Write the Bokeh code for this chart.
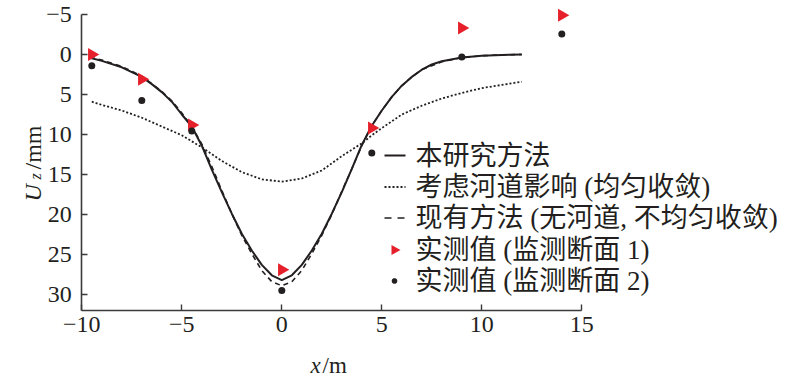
import numpy as np
from bokeh.plotting import figure
from bokeh.models import Range1d, FixedTicker, Label, Arrow, PolyAnnotation
from bokeh.embed import file_html
from bokeh.resources import INLINE

# ---------------- data ----------------
x_solid = [-9.6, -9.0, -8.0, -7.0, -6.5, -6.0, -5.5, -5.0, -4.5, -4.0, -3.5, -3.0, -2.5, -2.0,
           -1.5, -1.0, -0.5, 0.0, 0.5, 1.0, 1.5, 2.0, 2.5, 3.0, 3.5, 4.0, 4.5, 5.0, 5.5, 6.0,
           6.5, 7.0, 7.5, 8.0, 9.0, 10.0, 11.0, 12.0]
y_solid = [0.4, 0.8, 1.6, 2.8, 3.7, 4.7, 5.9, 7.5, 9.0, 11.4, 14.4, 17.2, 19.9, 22.4,
           24.5, 26.3, 27.6, 28.2, 27.6, 26.3, 24.5, 22.4, 19.9, 17.2, 14.3, 11.3, 8.9, 7.0, 5.3, 3.9,
           2.8, 1.9, 1.25, 0.85, 0.37, 0.15, 0.05, 0.0]

x_dashed = [-9.6, -9.0, -8.0, -7.0, -6.0, -5.5, -5.0, -4.5, -4.0, -3.5, -3.0, -2.5, -2.0,
            -1.5, -1.0, -0.5, 0.0, 0.5, 1.0, 1.5, 2.0, 2.5, 3.0, 3.5, 4.0, 4.5, 5.0, 5.5,
            6.0, 6.5, 7.0, 8.0, 9.0, 10.0, 11.0, 12.0]
y_dashed = [0.3, 0.7, 1.5, 2.7, 4.6, 5.8, 7.3, 9.0, 11.2, 14.0, 17.0, 19.9, 22.6,
            24.9, 27.0, 28.4, 28.9, 28.4, 27.0, 24.9, 22.6, 20.0, 17.1, 14.3, 11.4, 8.9, 7.0, 5.3,
            3.9, 2.8, 1.9, 0.9, 0.4, 0.15, 0.05, 0.0]

x_dotted = [-9.5, -9.0, -8.0, -7.0, -6.0, -5.0, -4.0, -3.0, -2.0, -1.0, 0.0, 1.0, 2.0, 3.0,
            4.0, 4.5, 5.0, 6.0, 7.0, 8.0, 9.0, 10.0, 11.0, 12.0]
y_dotted = [5.9, 6.3, 7.0, 7.9, 9.0, 10.1, 11.6, 13.3, 14.7, 15.6, 15.9, 15.5, 14.5, 12.7,
            11.1, 10.1, 9.2, 7.5, 6.4, 5.5, 4.8, 4.2, 3.8, 3.4]

x_meas1 = [-9.5, -7.0, -4.5, 0.0, 4.5, 9.0, 14.0]
y_meas1 = [0.0, 3.1, 8.8, 26.9, 9.2, -3.3, -4.9]

x_meas2 = [-9.5, -7.0, -4.5, 0.0, 4.5, 9.0, 14.0]
y_meas2 = [1.4, 5.75, 9.55, 29.5, 12.3, 0.3, -2.55]

x_ticks = [-10, -5, 0, 5, 10, 15]
y_ticks = [-5, 0, 5, 10, 15, 20, 25, 30]

legend_labels = ["本研究方法", "考虑河道影响 (均匀收敛)", "现有方法 (无河道, 不均匀收敛)",
                 "实测值 (监测断面 1)", "实测值 (监测断面 2)"]

# ---------------- style ----------------
BLACK = "#231f20"
RED = "#e5202a"
AXIS = "#3a3a3a"
SERIF = "Liberation Serif"
MIXED = "Liberation Serif, Noto Sans CJK SC"

# frame covers the whole canvas; axes are pinned at x=-10 and y=32 (20 px / m, 8 px / mm)
p = figure(width=800, height=378, output_backend="svg", toolbar_location=None,
           x_range=Range1d(-14.065, 25.935), y_range=Range1d(40.5, -6.75),
           min_border=0)
p.outline_line_color = None
p.grid.visible = False
p.background_fill_color = "white"
p.border_fill_color = "white"

for ax, ticks, bounds, loc in ((p.xaxis[0], x_ticks, (-10, 15), 32),
                               (p.yaxis[0], y_ticks, (-5, 32), -10)):
    ax.fixed_location = loc
    ax.ticker = FixedTicker(ticks=ticks)
    ax.bounds = bounds
    ax.axis_line_color = AXIS
    ax.axis_line_width = 1.6
    ax.major_tick_line_color = AXIS
    ax.major_tick_line_width = 1.4
    ax.major_tick_in = 6
    ax.major_tick_out = 0
    ax.minor_tick_line_color = None
    ax.major_label_text_font = SERIF
    ax.major_label_text_font_size = "24px"
    ax.major_label_text_color = BLACK
p.xaxis[0].major_label_standoff = 6
p.yaxis[0].major_label_standoff = 10
p.xaxis[0].major_label_overrides = {-10: "\u221210", -5: "\u22125"}
p.yaxis[0].major_label_overrides = {-5: "\u22125"}

# ---------------- curves ----------------
p.line(x_dotted, y_dotted, line_color=BLACK, line_width=1.8, line_dash="2 2")
p.line(x_dashed, y_dashed, line_color=BLACK, line_width=1.6, line_dash="5 4")
p.line(x_solid, y_solid, line_color=BLACK, line_width=2)
p.scatter(x_meas1, y_meas1, marker="triangle", size=13, angle=-np.pi / 2,
          fill_color=RED, line_color=None)
p.scatter(x_meas2, y_meas2, marker="circle", size=7, fill_color=BLACK, line_color=None)

# ---------------- axis titles ----------------
p.add_layout(Label(x=32, y=201, x_units="canvas", y_units="canvas", text="U", angle=np.pi / 2,
                   text_font=SERIF, text_font_style="italic", text_font_size="24px",
                   text_color=BLACK, text_baseline="alphabetic", text_align="left"))
p.add_layout(Label(x=35, y=179, x_units="canvas", y_units="canvas", text="z", angle=np.pi / 2,
                   text_font=SERIF, text_font_style="italic", text_font_size="16px",
                   text_color=BLACK, text_baseline="alphabetic", text_align="left"))
p.add_layout(Label(x=32, y=169, x_units="canvas", y_units="canvas", text="/mm", angle=np.pi / 2,
                   text_font=SERIF, text_font_size="24px",
                   text_color=BLACK, text_baseline="alphabetic", text_align="left"))
p.add_layout(Label(x=310, y=365, x_units="canvas", y_units="canvas", text="x",
                   text_font=SERIF, text_font_style="italic", text_font_size="23px",
                   text_color=BLACK, text_baseline="alphabetic", text_align="left"))
p.add_layout(Label(x=322, y=365, x_units="canvas", y_units="canvas", text="/m",
                   text_font=SERIF, text_font_size="23px",
                   text_color=BLACK, text_baseline="alphabetic", text_align="left"))

# ---------------- legend (manual) ----------------
rows = [155, 186.5, 217.5, 249.5, 280.5]
sw0, sw1, tx = 384, 405, 415
for ry, lab in zip(rows, legend_labels):
    p.add_layout(Label(x=tx, y=ry, x_units="canvas", y_units="canvas", text=lab,
                       text_font=MIXED, text_font_size="27px", text_color=BLACK,
                       text_baseline="middle", text_align="left"))
p.add_layout(Arrow(x_start=sw0, y_start=rows[0], x_end=sw1, y_end=rows[0], start_units="canvas",
                   end_units="canvas", start=None, end=None, line_color=BLACK, line_width=2))
p.add_layout(Arrow(x_start=sw0, y_start=rows[1], x_end=sw1, y_end=rows[1], start_units="canvas",
                   end_units="canvas", start=None, end=None, line_color=BLACK, line_width=1.8,
                   line_dash="2 2"))
p.add_layout(Arrow(x_start=sw0, y_start=rows[2], x_end=sw1, y_end=rows[2], start_units="canvas",
                   end_units="canvas", start=None, end=None, line_color=BLACK, line_width=1.6,
                   line_dash="7 6"))
tcx, tcy = 395, rows[3]
p.add_layout(PolyAnnotation(xs=[tcx - 4, tcx + 5, tcx - 4], ys=[tcy - 5, tcy, tcy + 5],
                            xs_units="canvas", ys_units="canvas",
                            fill_color=RED, fill_alpha=1, line_color=None))
ang = np.linspace(0, 2 * np.pi, 24, endpoint=False)
p.add_layout(PolyAnnotation(xs=list(394 + 2.8 * np.cos(ang)), ys=list(rows[4] + 2.8 * np.sin(ang)),
                            xs_units="canvas", ys_units="canvas",
                            fill_color=BLACK, fill_alpha=1, line_color=None))

open("out.html", "w").write(file_html(p, INLINE))
